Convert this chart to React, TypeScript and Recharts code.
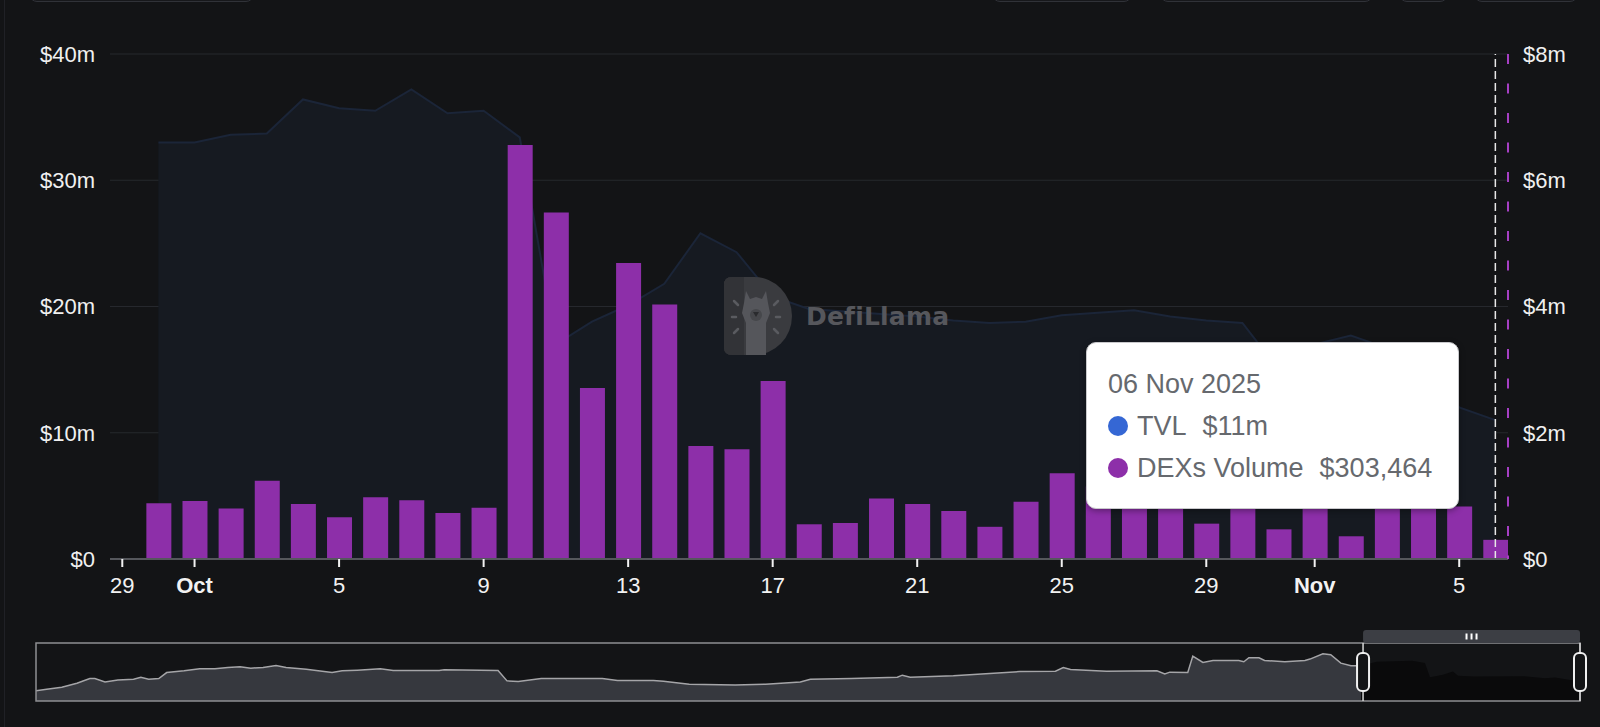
import React from 'react';
import {
  ComposedChart,
  AreaChart,
  Area,
  Bar,
  XAxis,
  YAxis,
  CartesianGrid,
  ReferenceLine,
  ReferenceArea,
} from 'recharts';

// ---------- data ----------
const dates = [
  '30 Sep 2025', '01 Oct 2025', '02 Oct 2025', '03 Oct 2025', '04 Oct 2025', '05 Oct 2025',
  '06 Oct 2025', '07 Oct 2025', '08 Oct 2025', '09 Oct 2025', '10 Oct 2025', '11 Oct 2025',
  '12 Oct 2025', '13 Oct 2025', '14 Oct 2025', '15 Oct 2025', '16 Oct 2025', '17 Oct 2025',
  '18 Oct 2025', '19 Oct 2025', '20 Oct 2025', '21 Oct 2025', '22 Oct 2025', '23 Oct 2025',
  '24 Oct 2025', '25 Oct 2025', '26 Oct 2025', '27 Oct 2025', '28 Oct 2025', '29 Oct 2025',
  '30 Oct 2025', '31 Oct 2025', '01 Nov 2025', '02 Nov 2025', '03 Nov 2025', '04 Nov 2025',
  '05 Nov 2025', '06 Nov 2025',
];

const tvl = [
  33000000, 33000000, 33600000, 33700000, 36400000, 35700000, 35500000, 37200000, 35300000, 35500000,
  33400000, 17000000, 18800000, 20100000, 21800000, 25800000, 24300000, 20800000, 19800000, 19600000,
  19400000, 19200000, 18900000, 18700000, 18800000, 19300000, 19500000, 19700000, 19200000, 18900000,
  18700000, 15000000, 17000000, 17700000, 16700000, 15500000, 12000000, 11000000,
];

const dexVolume = [
  885000, 920000, 800000, 1240000, 870000, 660000, 980000, 930000, 730000, 810000,
  6560000, 5490000, 2710000, 4690000, 4030000, 1790000, 1740000, 2820000, 550000, 570000,
  960000, 870000, 760000, 510000, 905000, 1360000, 1150000, 1300000, 1050000, 560000,
  1000000, 470000, 1100000, 360000, 950000, 1200000, 830000, 303464,
];

// day index 0 = 29 Sep 2025
const xTicks = [0, 2, 6, 10, 14, 18, 22, 26, 30, 33, 37];
const xTickLabels = ['29', 'Oct', '5', '9', '13', '17', '21', '25', '29', 'Nov', '5'];
const leftTicks = [0, 10000000, 20000000, 30000000, 40000000];
const rightTicks = [0, 2000000, 4000000, 6000000, 8000000];

// long-range TVL overview (brush), days relative to 29 Sep 2025, values in $m
const brushDays = [
  -237, -235.1, -232.4, -229.7, -227.4, -226.5, -224.7, -222.4, -219.6, -218.3,
  -216.9, -215.1, -213.7, -210.6, -207.8, -205.1, -202.8, -200.6, -198.7, -196.5,
  -194.2, -192.4, -188.8, -184.2, -182.4, -179.7, -175.6, -173.3, -165.1, -164.2,
  -154.6, -153, -151, -146.9, -136, -133.3, -126.9, -125.1, -120.5, -112.3,
  -106.9, -100.7, -98.9, -91.6, -83.4, -82.5, -81.1, -73.4, -61.6, -55.2,
  -53.8, -52.5, -46.1, -37.1, -35.7, -34.8, -31.6, -30.7, -28.9, -27.1,
  -22.5, -21.6, -20.7, -18.9, -17.9, -14.3, -10.7, -9.8, -7.5, -6.1,
  -4.3, -2.5, -0.7, 2.1, 8.4, 10.7, 11.6, 13.9, 15.7, 16.6,
  19.4, 28.4, 32.1, 33.9, 36.6, 38.3,
];
const brushTvl = [
  4.3, 5.7, 7.7, 11.7, 16.3, 16.3, 13, 15, 15.7, 17.7,
  15.7, 16.3, 22.3, 24, 26, 26, 27.3, 28, 26.7, 27.3,
  29.3, 27.3, 25.7, 22.3, 24, 24.7, 26, 24.3, 24.3, 25,
  24.3, 14, 13.3, 16.3, 16.3, 14.3, 14.3, 13.7, 10.7, 10,
  10.7, 13, 15.7, 16.3, 17.7, 19.7, 17.7, 19, 23.3, 23.7,
  27.3, 25.3, 23.7, 24, 21, 22.7, 22.3, 38.7, 32.3, 34.3,
  34.3, 33, 37, 37, 34.3, 33, 34.3, 35.7, 41, 40,
  31.7, 29, 29, 33, 34, 31.7, 17.7, 20, 23.3, 19,
  18.3, 18.7, 16.7, 17.3, 15, 15,
];

// ---------- config ----------
const X_DOMAIN: [number, number] = [-0.34, 38.35];
const BRUSH_Y_DOMAIN: [number, number] = [-6, 51.7];
const FONT = '"Liberation Sans", Arial, Helvetica, sans-serif';
const BG = '#131416';
const PURPLE = '#8d2fa9';

const data = dates.map((date, i) => ({
  day: i + 1,
  date,
  tvl: tvl[i],
  vol: dexVolume[i],
}));

const brushData = brushDays.map((d, i) => ({
  d,
  out: d <= X_DOMAIN[0] ? brushTvl[i] : null,
  inn: d >= -0.7 ? brushTvl[i] : null,
}));

const fmtAxis = (v: number) => (v === 0 ? '$0' : `$${Math.round(v / 1e6)}m`);

const XTick = (props: any) => {
  const { x, y, payload } = props;
  const idx = xTicks.indexOf(payload.value);
  const label = idx >= 0 ? xTickLabels[idx] : '';
  const bold = label === 'Oct' || label === 'Nov';
  return (
    <text
      x={x}
      y={y}
      dy="0.71em"
      textAnchor="middle"
      fill="#f2f2f2"
      fontSize={22}
      fontWeight={bold ? 700 : 400}
      fontFamily={FONT}
    >
      {label}
    </text>
  );
};

const WindowShape = (props: any) => {
  const { x, y, width, height } = props;
  if (x == null || y == null) return null;
  const cx = x + width / 2;
  return (
    <g>
      <rect x={x} y={y - 13} width={width} height={13} rx={3} fill="#3c3e44" />
      {[-5, 0, 5].map((o) => (
        <line key={o} x1={cx + o} x2={cx + o} y1={y - 9.5} y2={y - 3.5} stroke="#ffffff" strokeWidth={2} />
      ))}
      <line x1={x} x2={x} y1={y} y2={y + height} stroke="#d8d8d8" strokeWidth={1.5} />
      <line x1={x + width} x2={x + width} y1={y} y2={y + height} stroke="#d8d8d8" strokeWidth={1.5} />
      <rect x={x - 6} y={y + 10} width={12} height={38} rx={5} fill={BG} stroke="#f0f0f0" strokeWidth={2} />
      <rect x={x + width - 6} y={y + 10} width={12} height={38} rx={5} fill={BG} stroke="#f0f0f0" strokeWidth={2} />
    </g>
  );
};

const Watermark = () => (
  <div
    style={{
      position: 'absolute',
      left: 724,
      top: 277,
      display: 'flex',
      alignItems: 'center',
      pointerEvents: 'none',
    }}
  >
    <svg width={68} height={78} viewBox="0 0 68 78">
      <path d="M0,8 Q0,0 8,0 H30 A38,39 0 0 1 30,78 H8 Q0,78 0,70 Z" fill="#3a3b3f" />
      <path d="M0,8 Q0,0 8,0 H20 V78 H8 Q0,78 0,70 Z" fill="#323337" />
      <path
        d="M22,14 L26,22 L32,20 L38,22 L42,14 L44,26 L46,36 L42,46 L42,78 L22,78 L22,46 L18,36 L20,26 Z"
        fill="#55565b"
      />
      <circle cx={32} cy={38} r={6} fill="#46474b" />
      <path d="M29,35 L35,35 L32,40 Z" fill="#2a2b2e" />
      {[
        [10, 24, 14, 28],
        [8, 40, 12, 40],
        [10, 56, 14, 52],
        [54, 24, 50, 28],
        [56, 40, 52, 40],
        [54, 56, 50, 52],
      ].map(([a, b, c, d], i) => (
        <line key={i} x1={a} y1={b} x2={c} y2={d} stroke="#5a5b60" strokeWidth={2.5} strokeLinecap="round" />
      ))}
    </svg>
    <span
      style={{
        marginLeft: 14,
        fontFamily: '"DejaVu Sans", "Noto Sans", sans-serif',
        fontWeight: 700,
        fontSize: 25,
        color: '#56575c',
        letterSpacing: 0.2,
      }}
    >
      DefiLlama
    </span>
  </div>
);

const TooltipBox = () => {
  const i = data.length - 1;
  const row: React.CSSProperties = {
    display: 'flex',
    alignItems: 'center',
    height: 42,
    whiteSpace: 'nowrap',
  };
  const dot = (c: string): React.CSSProperties => ({
    width: 20,
    height: 20,
    borderRadius: 10,
    background: c,
    marginRight: 9,
    flex: 'none',
  });
  return (
    <div
      style={{
        position: 'absolute',
        left: 1086,
        top: 342,
        width: 373,
        height: 167,
        boxSizing: 'border-box',
        background: '#ffffff',
        border: '1.5px solid #c9c9cc',
        borderRadius: 10,
        boxShadow: '0 2px 6px rgba(0,0,0,0.35)',
        padding: '20px 0 0 21px',
        fontFamily: FONT,
        fontSize: 27,
        color: '#66696e',
      }}
    >
      <div style={row}>{data[i].date}</div>
      <div style={row}>
        <span style={dot('#3567d4')} />
        <span>TVL</span>
        <span style={{ marginLeft: 16 }}>{`$${Math.round(data[i].tvl / 1e6)}m`}</span>
      </div>
      <div style={row}>
        <span style={dot(PURPLE)} />
        <span>DEXs Volume</span>
        <span style={{ marginLeft: 16 }}>{`$${data[i].vol.toLocaleString('en-US')}`}</span>
      </div>
    </div>
  );
};

const topButtons: Array<[number, number]> = [
  [29, 254],
  [992, 1132],
  [1160, 1373],
  [1399, 1448],
  [1474, 1578],
];

export default function App() {
  const last = data[data.length - 1].day;
  return (
    <div
      style={{
        position: 'absolute',
        left: 0,
        top: 0,
        width: 1600,
        height: 727,
        background: BG,
        overflow: 'hidden',
        fontFamily: FONT,
      }}
    >
      <div style={{ position: 'absolute', left: 4, top: 0, width: 1, height: 727, background: '#202126' }} />
      {topButtons.map(([a, b], k) => (
        <div
          key={k}
          style={{
            position: 'absolute',
            left: a,
            top: -30,
            width: b - a,
            height: 32,
            boxSizing: 'border-box',
            border: '1px solid #303238',
            borderRadius: 8,
            background: '#17181b',
          }}
        />
      ))}

      <div style={{ position: 'absolute', left: 0, top: 0 }}>
        <ComposedChart width={1600} height={600} data={data} margin={{ top: 54, right: 0, bottom: 0, left: 0 }}>
          <CartesianGrid yAxisId="left" vertical={false} stroke="#26282d" strokeWidth={1.2} />
          <XAxis
            dataKey="day"
            type="number"
            scale="linear"
            domain={X_DOMAIN}
            allowDataOverflow
            ticks={xTicks}
            interval={0}
            height={41}
            tickSize={8}
            tickMargin={10}
            axisLine={{ stroke: '#55575c', strokeWidth: 2 }}
            tickLine={{ stroke: '#f2f2f2', strokeWidth: 2 }}
            tick={<XTick />}
          />
          <YAxis
            yAxisId="left"
            orientation="left"
            domain={[0, 40000000]}
            ticks={leftTicks}
            interval={0}
            width={110}
            axisLine={false}
            tickLine={false}
            tickSize={0}
            tickMargin={15}
            tickFormatter={fmtAxis}
            tick={{ fill: '#f0f0f0', fontSize: 22, fontFamily: FONT }}
          />
          <YAxis
            yAxisId="right"
            orientation="right"
            domain={[0, 8000000]}
            ticks={rightTicks}
            interval={0}
            width={92}
            axisLine={{ stroke: '#a63fc4', strokeWidth: 2, strokeDasharray: '10 19.5' }}
            tickLine={false}
            tickSize={0}
            tickMargin={15}
            tickFormatter={fmtAxis}
            tick={{ fill: '#f0f0f0', fontSize: 22, fontFamily: FONT }}
          />
          <Area
            yAxisId="left"
            dataKey="tvl"
            type="linear"
            stroke="#1b2538"
            strokeWidth={2}
            fill="#161a21"
            fillOpacity={1}
            dot={false}
            activeDot={false}
            isAnimationActive={false}
          />
          <Bar yAxisId="right" dataKey="vol" fill={PURPLE} barSize={25} isAnimationActive={false} />
          <ReferenceLine
            yAxisId="left"
            x={last}
            stroke="#e8e8e8"
            strokeWidth={1.5}
            strokeDasharray="8 4"
          />
        </ComposedChart>
      </div>

      <Watermark />
      <TooltipBox />

      <div style={{ position: 'absolute', left: 0, top: 620 }}>
        <AreaChart width={1600} height={90} data={brushData} margin={{ top: 23, right: 20, bottom: 9, left: 36 }}>
          <XAxis dataKey="d" type="number" domain={[brushDays[0], X_DOMAIN[1]]} allowDataOverflow hide />
          <YAxis domain={BRUSH_Y_DOMAIN} allowDataOverflow hide />
          <Area
            dataKey="out"
            type="linear"
            baseValue="dataMin"
            stroke="#a5a5a8"
            strokeWidth={1.5}
            fill="#36383e"
            fillOpacity={1}
            dot={false}
            activeDot={false}
            isAnimationActive={false}
          />
          <Area
            dataKey="inn"
            type="linear"
            baseValue="dataMin"
            stroke="none"
            fill="#0a0a0b"
            fillOpacity={1}
            dot={false}
            activeDot={false}
            isAnimationActive={false}
          />
          <ReferenceArea
            x1={brushDays[0]}
            x2={X_DOMAIN[1]}
            y1={BRUSH_Y_DOMAIN[0]}
            y2={BRUSH_Y_DOMAIN[1]}
            fill="none"
            stroke="#8e8e92"
            strokeWidth={1.5}
            ifOverflow="visible"
          />
          <ReferenceArea
            x1={X_DOMAIN[0]}
            x2={X_DOMAIN[1]}
            y1={BRUSH_Y_DOMAIN[0]}
            y2={BRUSH_Y_DOMAIN[1]}
            ifOverflow="visible"
            shape={(p: any) => <WindowShape {...p} />}
          />
        </AreaChart>
      </div>
    </div>
  );
}
